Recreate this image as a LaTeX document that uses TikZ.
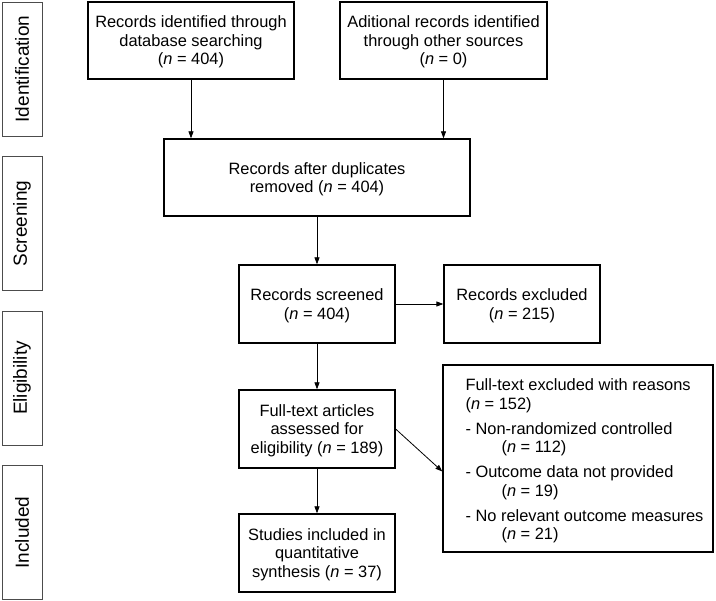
\documentclass[tikz,border=0pt]{standalone}
\usepackage{fontspec}
\setmainfont{Liberation Sans}
\usetikzlibrary{arrows.meta, positioning}

\begin{document}
\begin{tikzpicture}[x=1pt, y=-1pt,
    box/.style={draw, line width=1.3pt, align=center, inner sep=2pt, text depth=-9pt,
        font=\fontsize{16.4}{18.5}\selectfont},
    phase/.style={draw=black!70, line width=0.8pt, rotate=90, minimum width=134pt,
        minimum height=40pt, inner sep=0pt, font=\fontsize{19}{22}\selectfont},
    flow/.style={-{Triangle[length=7pt, width=5pt]}, line width=0.8pt}]
    \useasboundingbox (0, 0) rectangle (716, 601);

    % phases on the left
    \node[phase] (ident) at (22, 69) {Identification};
    \node[phase] (screen) at (22, 223.5) {Screening};
    \node[phase] (elig) at (22, 378) {Eligibility};
    \node[phase] (incl) at (22, 532.5) {Included};

    % flow boxes
    \node[box, minimum width=206pt, minimum height=77pt] (db) at (191, 40.5)
    {Records identified through\\database searching\\(\textit{n} = 404)};
    \node[box, minimum width=207pt, minimum height=77pt] (other) at (443.5, 40.5)
    {Aditional records identified\\through other sources\\(\textit{n} = 0)};
    \node[box, minimum width=306pt, minimum height=77pt] (dup) at (317, 177.5)
    {Records after duplicates\\removed (\textit{n} = 404)};
    \node[box, minimum width=156pt, minimum height=78pt] (scr) at (317, 304)
    {Records screened\\(\textit{n} = 404)};
    \node[box, minimum width=156pt, minimum height=78pt] (excl) at (522, 304)
    {Records excluded\\(\textit{n} = 215)};
    \node[box, minimum width=156pt, minimum height=78pt] (full) at (317, 429)
    {Full-text articles\\assessed for\\eligibility (\textit{n} = 189)};
    \node[box, minimum width=156pt, minimum height=78pt] (study) at (317, 553)
    {Studies included in\\quantitative\\synthesis (\textit{n} = 37)};
    \node[box, align=left, text depth=, minimum width=270pt, minimum height=187pt] (reason) at (578, 458.5)
    {\begin{tabular}{@{\hspace{13pt}}l@{}}
    \rule{0pt}{19pt}Full-text excluded with reasons\\
    (\textit{n} = 152)\\[6.5pt]
    - Non-randomized controlled\\
    \hspace*{36pt}(\textit{n} = 112)\\[6.5pt]
    - Outcome data not provided\\
    \hspace*{36pt}(\textit{n} = 19)\\[6.5pt]
    - No relevant outcome measures\\
    \hspace*{36pt}(\textit{n} = 21)
    \end{tabular}};

    % connectors
    \draw[flow] (db.south) -- (db.south |- dup.north);
    \draw[flow] (other.south) -- (other.south |- dup.north);
    \draw[flow] (dup) -- (scr);
    \draw[flow] (scr) -- (excl);
    \draw[flow] (scr) -- (full);
    \draw[flow] (full) -- (study);
    \draw[flow] (full.east) -- ([yshift=-13pt]reason.west);
\end{tikzpicture}
\end{document}
